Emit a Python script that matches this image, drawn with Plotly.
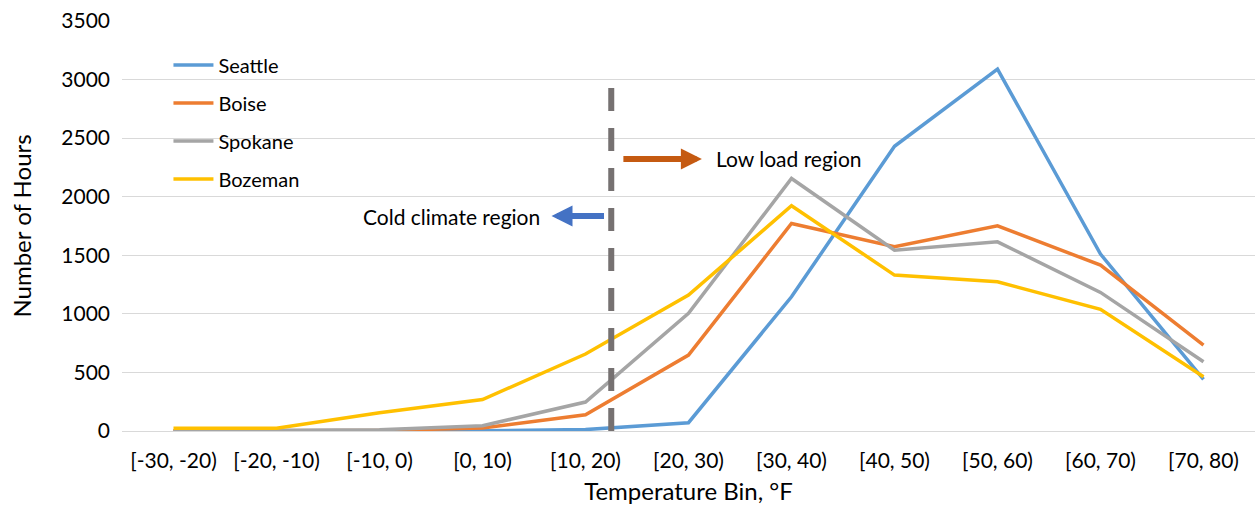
import plotly.graph_objects as go

categories = ["[-30, -20)", "[-20, -10)", "[-10, 0)", "[0, 10)", "[10, 20)", "[20, 30)",
              "[30, 40)", "[40, 50)", "[50, 60)", "[60, 70)", "[70, 80)"]
seattle = [0, 0, 0, 2, 12, 71, 1146, 2430, 3090, 1510, 441]
boise = [1, 2, 5, 25, 138, 648, 1772, 1573, 1752, 1416, 734]
spokane = [2, 3, 10, 45, 247, 1004, 2156, 1544, 1615, 1183, 591]
bozeman = [23, 23, 156, 268, 657, 1160, 1923, 1331, 1274, 1038, 463]
y_ticks = [0, 500, 1000, 1500, 2000, 2500, 3000, 3500]

series = [("Seattle", seattle, "#5B9BD5"), ("Boise", boise, "#ED7D31"),
          ("Spokane", spokane, "#A5A5A5"), ("Bozeman", bozeman, "#FFC000")]

FONT = "Lato"
fig = go.Figure()
for name, vals, col in series:
    fig.add_trace(go.Scatter(x=categories, y=vals, mode="lines", name=name,
                             legendgroup=name,
                             line=dict(color=col, width=3.5)))

# dashed divider
fig.add_shape(type="line", xref="x", yref="y", x0=4.25, x1=4.25, y0=0, y1=2930,
              line=dict(color="#767171", width=6, dash="23px,17px"))

# arrows
fig.add_annotation(x=3.67, y=1835, xref="x", yref="y", ax=54, ay=0, text="",
                   showarrow=True, arrowhead=2, arrowwidth=6, arrowsize=0.7,
                   arrowcolor="#4472C4")
fig.add_annotation(x=5.13, y=2322, xref="x", yref="y", ax=-80, ay=0, text="",
                   showarrow=True, arrowhead=2, arrowwidth=6, arrowsize=0.7,
                   arrowcolor="#C55A11")
fig.add_annotation(x=3.575, y=1835, xref="x", yref="y", text="Cold climate region",
                   showarrow=False, xanchor="right", yanchor="middle",
                   font=dict(family=FONT, size=21, color="#000000"))
fig.add_annotation(x=5.25, y=2322, xref="x", yref="y", text="Low load region",
                   showarrow=False, xanchor="left", yanchor="middle",
                   font=dict(family=FONT, size=21, color="#000000"))

fig.update_layout(
    width=1255, height=510,
    margin=dict(l=122, r=0, t=21, b=79),
    paper_bgcolor="white", plot_bgcolor="white",
    font=dict(family=FONT, size=21, color="#000000"),
    showlegend=True,
    legend=dict(x=0.041, y=0.94, xanchor="left", yanchor="top",
                bgcolor="rgba(0,0,0,0)", font=dict(family=FONT, size=20),
                tracegroupgap=9, itemwidth=40),
    xaxis=dict(type="category", range=[-0.5, 10.5], showgrid=False, zeroline=False,
               showline=False, ticks="", ticklabelstandoff=15,
               title=dict(text="Temperature Bin, °F", font=dict(size=24), standoff=12)),
    yaxis=dict(range=[0, 3500], tickvals=y_ticks, showgrid=True, gridcolor="#D9D9D9",
               gridwidth=1, zeroline=True, zerolinecolor="#D9D9D9", zerolinewidth=1,
               showline=False, ticks="", ticklabelstandoff=11,
               title=dict(text="Number of Hours", font=dict(size=24), standoff=22)),
)

fig.write_html("out.html")
